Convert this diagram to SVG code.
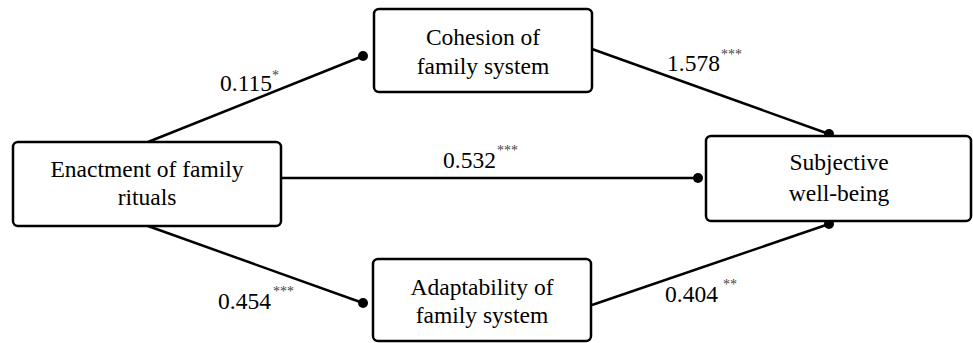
<svg xmlns="http://www.w3.org/2000/svg" width="973" height="343" viewBox="0 0 973 343">
<style>
.box{fill:#fff;stroke:#000;stroke-width:2.5}
text{font-family:'Liberation Serif','Times New Roman','DejaVu Serif',serif}
.t{font-size:23.5px;fill:#000;text-anchor:middle}
.n{font-size:23.5px;fill:#000}
.s{font-size:14px;fill:#444}
.c{stroke:#000;stroke-width:2.5;fill:none}
</style>
<defs>
<marker id="dot" viewBox="0 0 10 10" refX="5" refY="5" markerWidth="4" markerHeight="4" markerUnits="strokeWidth">
<circle cx="5" cy="5" r="5" fill="#000"/>
</marker>
</defs>
<g id="connectors">
<line class="c" x1="148" y1="142" x2="363" y2="56" marker-end="url(#dot)"/>
<line class="c" x1="592" y1="49" x2="829" y2="134" marker-end="url(#dot)"/>
<line class="c" x1="281" y1="178" x2="698" y2="178" marker-end="url(#dot)"/>
<line class="c" x1="148" y1="226" x2="363" y2="303" marker-end="url(#dot)"/>
<line class="c" x1="592" y1="305" x2="829" y2="224" marker-end="url(#dot)"/>
</g>
<g id="labels">
<text class="n" x="220" y="91">0.115</text><text class="s" x="272" y="80">*</text>
<text class="n" x="667" y="71">1.578</text><text class="s" x="721" y="59">***</text>
<text class="n" x="443" y="168">0.532</text><text class="s" x="497" y="155">***</text>
<text class="n" x="218" y="309">0.454</text><text class="s" x="273" y="296">***</text>
<text class="n" x="665" y="302">0.404</text><text class="s" x="723" y="289">**</text>
</g>
<g id="cohesion">
<rect class="box" x="374" y="9" width="218" height="83" rx="5"/>
<text class="t" x="483" y="45">Cohesion of</text>
<text class="t" x="483" y="74">family system</text>
</g>
<g id="enactment">
<rect class="box" x="13" y="142" width="268" height="84" rx="5"/>
<text class="t" x="147" y="177">Enactment of family</text>
<text class="t" x="147" y="205">rituals</text>
</g>
<g id="adaptability">
<rect class="box" x="373" y="259" width="218" height="82" rx="5"/>
<text class="t" x="482" y="295">Adaptability of</text>
<text class="t" x="482" y="323">family system</text>
</g>
<g id="wellbeing">
<rect class="box" x="706" y="136" width="265" height="85" rx="5"/>
<text class="t" x="839" y="170">Subjective</text>
<text class="t" x="839" y="201">well-being</text>
</g>
</svg>
